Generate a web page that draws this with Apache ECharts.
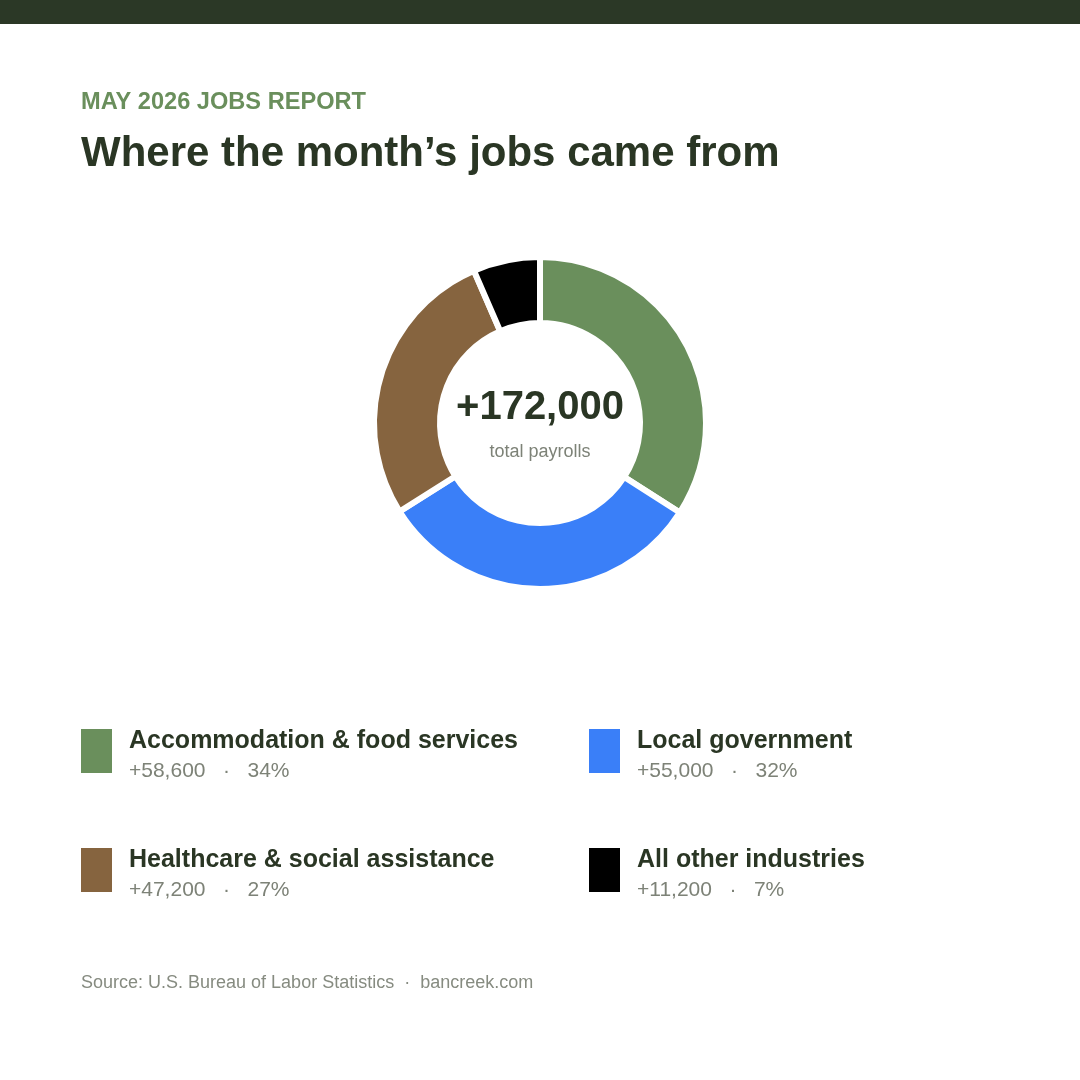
<!DOCTYPE html>
<html>
<head>
<meta charset="utf-8">
<script src="https://cdn.jsdelivr.net/npm/echarts@6/dist/echarts.min.js"></script>
<style>
html,body{margin:0;padding:0;background:#fff;}
#chart{width:1080px;height:1080px;}
</style>
</head>
<body>
<div id="chart"></div>
<script>
const categories = ['Accommodation & food services', 'Local government', 'Healthcare & social assistance', 'All other industries'];
const values = [58600, 55000, 47200, 11200];
const colors = ['#6a8f5c', '#3a7ff8', '#86643f', '#000000'];
const kicker = 'MAY 2026 JOBS REPORT';
const headline = 'Where the month\u2019s jobs came from';
const centerCaption = 'total payrolls';
const sourceText = 'Source: U.S. Bureau of Labor Statistics  \u00b7  bancreek.com';

const FONT = '"Liberation Sans", Arial, Helvetica, sans-serif';
const DARK = '#2a3624';
const GREY = '#7d8277';

const total = values.reduce((a, b) => a + b, 0);
const fmt = n => '+' + n.toLocaleString('en-US');
const pct = n => Math.round(n / total * 100) + '%';

const legendPos = [
  { left: 81, top: 729 },
  { left: 589, top: 729 },
  { left: 81, top: 848 },
  { left: 589, top: 848 }
];

const legends = categories.map((name, i) => ({
  show: true,
  left: legendPos[i].left,
  top: legendPos[i].top,
  padding: 0,
  data: [name],
  selectedMode: false,
  icon: 'rect',
  itemWidth: 31,
  itemHeight: 44,
  itemStyle: { borderWidth: 0 },
  formatter: n => {
    const k = categories.indexOf(n);
    return '{n|' + n + '}\n{v|' + fmt(values[k]) + '   \u00b7   ' + pct(values[k]) + '}';
  },
  textStyle: {
    fontFamily: FONT,
    padding: [12, 0, 0, 12],
    rich: {
      n: { fontFamily: FONT, fontSize: 25, fontWeight: 'bold', color: DARK, lineHeight: 29 },
      v: { fontFamily: FONT, fontSize: 21, color: GREY, lineHeight: 31 }
    }
  }
}));

const chart = echarts.init(document.getElementById('chart'), null, { renderer: 'canvas' });
chart.setOption({
  backgroundColor: '#ffffff',
  animation: false,
  color: colors,
  legend: legends,
  graphic: [
    { type: 'rect', left: 0, top: 0, shape: { width: 1080, height: 24 }, style: { fill: '#2b3826' }, silent: true },
    { type: 'text', x: 81, y: 102, style: { text: kicker, font: 'bold 23.6px ' + FONT, fill: '#6a8f5c', verticalAlign: 'middle' } },
    { type: 'text', x: 81, y: 154, style: { text: headline, font: 'bold 42px ' + FONT, fill: DARK, verticalAlign: 'middle' } },
    { type: 'text', x: 540, y: 408, style: { text: fmt(total), font: 'bold 40px ' + FONT, fill: DARK, align: 'center', verticalAlign: 'middle' } },
    { type: 'text', x: 540, y: 452, style: { text: centerCaption, font: '18px ' + FONT, fill: GREY, align: 'center', verticalAlign: 'middle' } },
    { type: 'text', x: 81, y: 983, style: { text: sourceText, font: '18px ' + FONT, fill: '#868b80', verticalAlign: 'middle' } }
  ],
  series: [{
    type: 'pie',
    center: [540, 423],
    radius: [100, 166],
    startAngle: 90,
    clockwise: true,
    avoidLabelOverlap: false,
    label: { show: false },
    labelLine: { show: false },
    emphasis: { disabled: true },
    itemStyle: { borderColor: '#ffffff', borderWidth: 6 },
    data: categories.map((name, i) => ({ name, value: values[i] }))
  }]
});
</script>
</body>
</html>
